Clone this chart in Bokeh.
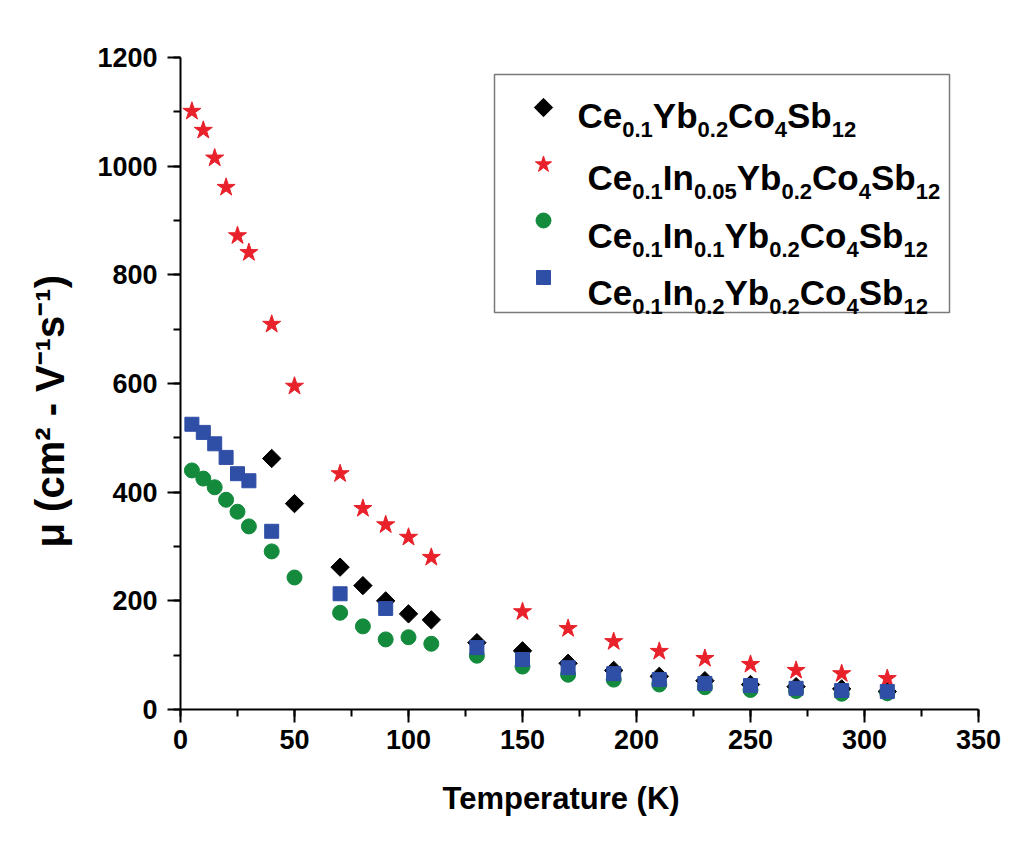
import math
from bokeh.plotting import figure
from bokeh.models import Range1d, SingleIntervalTicker, Label, Title
from bokeh.embed import file_html
from bokeh.resources import INLINE

# ---------------- data ----------------
T_diamond = [40, 50, 70, 80, 90, 100, 110, 130, 150, 170, 190, 210, 230, 250, 270, 290, 310]
mu_diamond = [462, 379, 262, 228, 200, 176, 165, 123, 108, 85, 72, 61, 53, 46, 42, 38, 33]

T_star = [5, 10, 15, 20, 25, 30, 40, 50, 70, 80, 90, 100, 110, 150, 170, 190, 210, 230, 250, 270, 290, 310]
mu_star = [1101, 1066, 1015, 961, 872, 841, 709, 595, 434, 370, 340, 317, 280, 180, 149, 125, 107, 94, 83, 72, 66, 57]

T_circle = [5, 10, 15, 20, 25, 30, 40, 50, 70, 80, 90, 100, 110, 130, 150, 170, 190, 210, 230, 250, 270, 290, 310]
mu_circle = [440, 425, 409, 386, 364, 337, 291, 243, 178, 153, 129, 133, 121, 99, 79, 64, 55, 46, 41, 36, 34, 29, 30]

T_square = [5, 10, 15, 20, 25, 30, 40, 70, 90, 130, 150, 170, 190, 210, 230, 250, 270, 290, 310]
mu_square = [525, 510, 489, 464, 434, 421, 328, 213, 186, 114, 92, 77, 66, 55, 48, 44, 39, 35, 33]

x_label = "Temperature (K)"
y_label = "μ (cm² - V⁻¹s⁻¹)"
# legend entries: (text, is_subscript)
legend_rows = [
    [("Ce", 0), ("0.1", 1), ("Yb", 0), ("0.2", 1), ("Co", 0), ("4", 1), ("Sb", 0), ("12", 1)],
    [("Ce", 0), ("0.1", 1), ("In", 0), ("0.05", 1), ("Yb", 0), ("0.2", 1), ("Co", 0), ("4", 1), ("Sb", 0), ("12", 1)],
    [("Ce", 0), ("0.1", 1), ("In", 0), ("0.1", 1), ("Yb", 0), ("0.2", 1), ("Co", 0), ("4", 1), ("Sb", 0), ("12", 1)],
    [("Ce", 0), ("0.1", 1), ("In", 0), ("0.2", 1), ("Yb", 0), ("0.2", 1), ("Co", 0), ("4", 1), ("Sb", 0), ("12", 1)],
]

# ---------------- style ----------------
FONT = "Liberation Sans"
BLACK = "#000000"
RED = "#e8212a"
GREEN = "#138a3c"
BLUE = "#2f4ea6"

# Arial/Liberation Sans Bold advance widths (per 1000 em)
W = {"C": 722, "e": 556, "Y": 667, "b": 611, "o": 611, "S": 667, "I": 278, "n": 611,
     ".": 278, " ": 278}
for d in "0123456789":
    W[d] = 556


def tw(s, size):
    return sum(W.get(ch, 556) for ch in s) * size / 1000.0


FW, FH = 798, 652
p = figure(frame_width=FW, frame_height=FH,
           min_border_left=180, min_border_right=38, min_border_top=57, min_border_bottom=140,
           x_range=Range1d(0, 350), y_range=Range1d(0, 1200),
           output_backend="svg", toolbar_location=None, background_fill_color="white",
           border_fill_color="white")
p.extra_x_ranges = {"px": Range1d(0, FW)}
p.extra_y_ranges = {"px": Range1d(0, FH)}
p.outline_line_color = None
p.xgrid.visible = False
p.ygrid.visible = False

p.xaxis.ticker = SingleIntervalTicker(interval=50, num_minor_ticks=2)
p.yaxis.ticker = SingleIntervalTicker(interval=200, num_minor_ticks=2)
for ax in (p.xaxis, p.yaxis):
    ax.axis_line_width = 2
    ax.axis_line_color = BLACK
    ax.major_tick_line_width = 2
    ax.minor_tick_line_width = 2
    ax.major_tick_line_color = BLACK
    ax.minor_tick_line_color = BLACK
    ax.major_tick_in = 0
    ax.major_tick_out = 13
    ax.minor_tick_in = 0
    ax.minor_tick_out = 7
    ax.major_label_text_font = FONT
    ax.major_label_text_font_style = "bold"
    ax.major_label_text_font_size = "27px"
    ax.major_label_text_color = BLACK
p.xaxis.major_label_standoff = 7
p.yaxis.major_label_standoff = 10

# axis titles as side-panel titles (allow offset along the axis)
p.add_layout(Title(text=x_label, align="left", offset=262, standoff=55,
                   text_font=FONT, text_font_style="bold", text_font_size="31px",
                   text_color=BLACK), "below")
p.add_layout(Title(text=y_label, align="left", offset=162, standoff=45,
                   text_font=FONT, text_font_style="bold", text_font_size="40px",
                   text_color=BLACK), "left")

# ---------------- data marks ----------------
p.scatter(T_diamond, mu_diamond, marker="square", angle=math.pi / 4, size=13,
          fill_color=BLACK, line_color=BLACK)
p.scatter(T_star, mu_star, marker="star", size=19, fill_color=RED, line_color=RED)
p.scatter(T_circle, mu_circle, marker="circle", size=15, fill_color=GREEN, line_color=GREEN)
p.scatter(T_square, mu_square, marker="square", size=14, fill_color=BLUE, line_color=BLUE)

# ---------------- helpers in frame pixel space (reference image coords) ----------------
def X(rx):
    return rx - 180


def Y(ry):
    return 709 - ry


# legend box
p.quad(left=[X(494)], right=[X(949)], top=[Y(74)], bottom=[Y(312)],
       fill_color=None, line_color="#7a7a7a", line_width=1.5,
       x_range_name="px", y_range_name="px")

# legend markers
lx = X(543)
p.scatter([lx], [Y(107)], marker="square", angle=math.pi / 4, size=13,
          fill_color=BLACK, line_color=BLACK, x_range_name="px", y_range_name="px")
p.scatter([lx], [Y(164)], marker="star", size=17, fill_color=RED, line_color=RED,
          x_range_name="px", y_range_name="px")
p.scatter([lx], [Y(220)], marker="circle", size=15, fill_color=GREEN, line_color=GREEN,
          x_range_name="px", y_range_name="px")
p.scatter([lx], [Y(277)], marker="square", size=14, fill_color=BLUE, line_color=BLUE,
          x_range_name="px", y_range_name="px")

MAIN, SUB = 35, 22
row_x = [577, 587, 587, 587]
row_base = [115, 177, 235, 292]
for parts, rx, ry in zip(legend_rows, row_x, row_base):
    cx = rx
    for txt, sub in parts:
        size = SUB if sub else MAIN
        yy = ry + (14 if sub else 0)
        p.add_layout(Label(x=X(cx), y=Y(yy), x_range_name="px", y_range_name="px",
                           text=txt, text_font=FONT, text_font_style="bold",
                           text_font_size=f"{size}px", text_color=BLACK,
                           text_baseline="alphabetic", text_align="left"))
        cx += tw(txt, size)

open("out.html", "w").write(file_html(p, INLINE))
